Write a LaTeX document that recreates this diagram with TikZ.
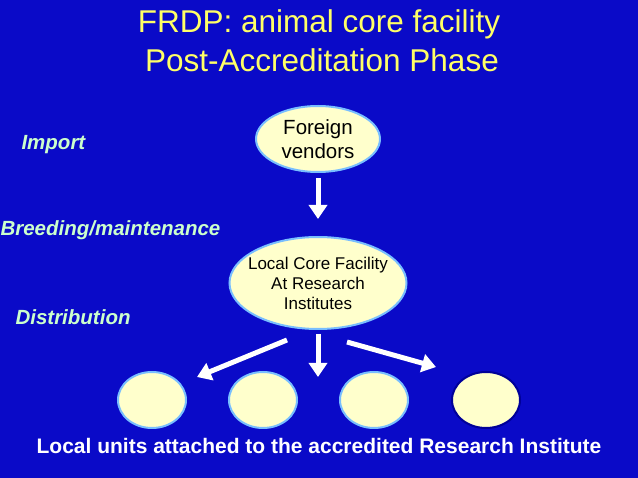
\documentclass[tikz,border=0pt]{standalone}
\usepackage{fontspec}
\setmainfont{Liberation Sans}
\usetikzlibrary{shapes.geometric,arrows.meta}
\definecolor{bg}{RGB}{10,10,200}
\definecolor{ttl}{RGB}{255,255,102}
\definecolor{lbl}{RGB}{204,255,204}
\definecolor{efill}{RGB}{255,255,204}
\definecolor{eline}{RGB}{120,190,255}
\tikzset{
 ell/.style={ellipse,fill=efill,draw=eline,line width=2pt,inner sep=0pt,align=center},
 side/.style={anchor=west,text=lbl,font=\fontsize{20.5}{23}\selectfont\bfseries\itshape},
 blk/.style={draw=white,line width=5pt,-{Triangle[length=14pt,width=18pt]}}
}
\begin{document}
\begin{tikzpicture}[x=1pt,y=-1pt]
\fill[bg] (0,0) rectangle (638,478);
\useasboundingbox (0,0) rectangle (638,478);
\node[text=ttl,font=\fontsize{31.5}{36}\selectfont] (t1) at (319,24) {FRDP: animal core facility};
\node[text=ttl,font=\fontsize{31.5}{36}\selectfont] (t2) at (322,60) {Post-Accreditation Phase};
\node[ell,minimum width=124,minimum height=66,font=\fontsize{20.5}{24}\selectfont] (fv) at (318,139) {Foreign\\vendors};
\node[ell,minimum width=177,minimum height=92] (lc) at (318,283) {};
\node[align=center,font=\fontsize{17}{20}\selectfont] (lct) at (lc.center) {Local Core Facility\\At Research\\Institutes};
\node[side] (im) at (18,145) {Import};
\node[side] (br) at (-3,230) {Breeding/maintenance};
\node[side] (di) at (12,317) {Distribution};
\node[ell,minimum width=68,minimum height=56] (u1) at (152,400) {};
\node[ell,minimum width=68,minimum height=56] (u2) at (263,400) {};
\node[ell,minimum width=68,minimum height=56] (u3) at (374,400) {};
\node[ell,minimum width=68,minimum height=56,draw=blue!60!black] (u4) at (486,400) {};
\coordinate (a1s) at (287,340); \coordinate (a1e) at (197,377);
\coordinate (a3s) at (347,342); \coordinate (a3e) at (436,367);
\draw[blk] (318,178) -- (318,219);
\draw[blk] (a1s) -- (a1e);
\draw[blk] (318,334) -- (318,377);
\draw[blk] (a3s) -- (a3e);
\node[text=white,font=\fontsize{21}{24}\selectfont\bfseries] (bt) at (319,446) {Local units attached to the accredited Research Institute};
\end{tikzpicture}
\end{document}
